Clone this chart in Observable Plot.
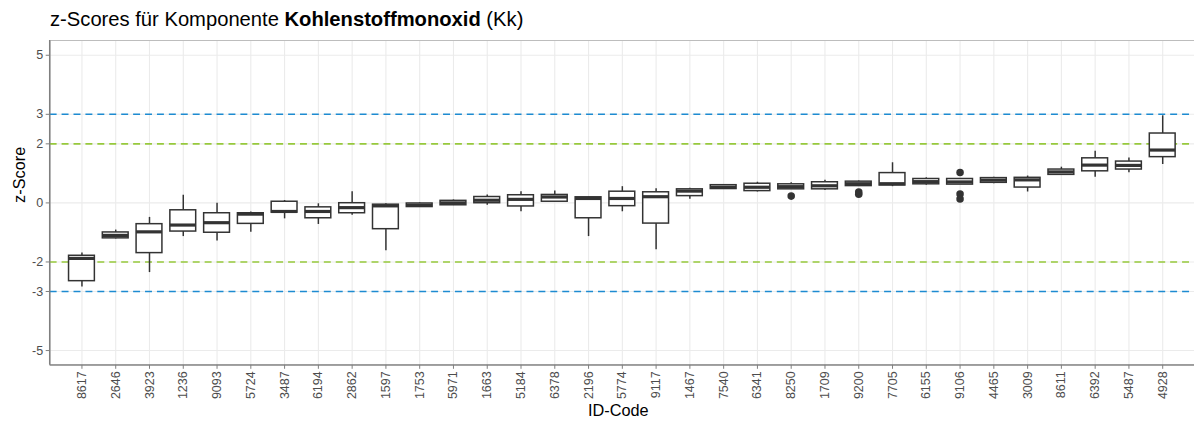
<!DOCTYPE html>
<html>
<head>
<meta charset="utf-8">
<script src="https://cdn.jsdelivr.net/npm/d3@7"></script>
<script src="https://cdn.jsdelivr.net/npm/@observablehq/plot@0.6"></script>
<style>
  html, body { margin: 0; padding: 0; background: #fff; overflow: hidden; width: 1194px; height: 425px; }
  #title { position: relative; height: 40px; font-family: "Liberation Sans", Arial, sans-serif; font-size: 20.2px; color: #000; }
  #title span.t { position: absolute; left: 50px; top: 9px; line-height: 1; white-space: nowrap; }
  #chart svg { display: block; }
</style>
</head>
<body>
<div id="title"><span class="t">z-Scores für Komponente <b>Kohlenstoffmonoxid</b> (Kk)</span></div>
<div id="chart"></div>
<script>
const ids = ["8617","2646","3923","1236","9093","5724","3487","6194","2862","1597","1753","5971","1663","5184","6378","2196","5774","9117","1467","7540","6341","8250","1709","9200","7705","6155","9106","4465","3009","8611","6392","5487","4928"];
const lower  = [-2.85,-1.22,-2.36,-1.14,-1.29,-0.99,-0.54,-0.73,-0.42,-1.62,-0.15,-0.09,-0.08,-0.30,0.02,-1.14,-0.30,-1.59,0.12,0.46,0.37,0.46,0.42,0.57,0.55,0.60,0.62,0.65,0.37,0.93,0.87,1.02,1.30];
const q1     = [-2.65,-1.20,-1.70,-0.97,-1.01,-0.71,-0.33,-0.52,-0.35,-0.89,-0.14,-0.08,-0.01,-0.12,0.04,-0.52,-0.11,-0.70,0.23,0.47,0.40,0.46,0.46,0.57,0.59,0.63,0.62,0.68,0.52,0.95,1.07,1.13,1.55];
const median = [-1.88,-1.10,-0.98,-0.75,-0.67,-0.38,-0.29,-0.29,-0.16,-0.10,-0.08,0.00,0.09,0.12,0.20,0.15,0.15,0.21,0.40,0.53,0.53,0.55,0.58,0.65,0.65,0.72,0.71,0.77,0.78,1.05,1.28,1.27,1.79];
const q3     = [-1.79,-1.00,-0.72,-0.25,-0.35,-0.35,0.04,-0.15,-0.01,-0.06,-0.02,0.07,0.20,0.26,0.27,0.19,0.38,0.36,0.46,0.60,0.65,0.63,0.70,0.72,1.01,0.81,0.81,0.84,0.85,1.13,1.51,1.40,2.35];
const upper  = [-1.70,-0.92,-0.49,0.26,-0.01,-0.31,0.08,-0.03,0.38,-0.03,0.00,0.10,0.27,0.38,0.40,0.20,0.55,0.48,0.50,0.62,0.70,0.68,0.77,0.74,1.36,0.85,0.81,0.87,0.91,1.21,1.75,1.52,2.95];
const outlierIds    = ["8250","9200","9200","9106","9106","9106"];
const outlierValues = [0.23,0.37,0.29,1.03,0.30,0.13];
const yTicks = [5,3,2,0,-2,-3,-5];
const limits3 = [3,-3];
const limits2 = [2,-2];
const xTitle = "ID-Code";
const yTitle = "z-Score";

const boxes = ids.map((id,i) => ({id, lo: lower[i], q1: q1[i], med: median[i], q3: q3[i], hi: upper[i]}));
const outliers = outlierIds.map((id,i) => ({id, v: outlierValues[i]}));

const dark = "#333333";
const axisGray = "#7f7f7f";

// left and bottom axis lines of the panel
function axisLines(index, scales, values, dim) {
  const ns = "http://www.w3.org/2000/svg";
  const g = document.createElementNS(ns, "g");
  const x0 = dim.marginLeft, x1 = dim.width - dim.marginRight;
  const y0 = dim.marginTop, y1 = dim.height - dim.marginBottom;
  const mk = (a, b, c, d) => {
    const l = document.createElementNS(ns, "line");
    l.setAttribute("x1", a); l.setAttribute("y1", b);
    l.setAttribute("x2", c); l.setAttribute("y2", d);
    l.setAttribute("stroke", axisGray); l.setAttribute("stroke-width", 1.4);
    g.appendChild(l);
  };
  mk(x0, y0, x0, y1);
  mk(x0, y1, x1, y1);
  return g;
}

const chart = Plot.plot({
  width: 1202,
  height: 385,
  marginLeft: 50,
  marginRight: 0,
  marginTop: 0,
  marginBottom: 58,
  style: {fontFamily: "'Liberation Sans', Arial, sans-serif", fontSize: "12.6px", color: "#4d4d4d", background: "#fff"},
  x: {type: "band", domain: ids, paddingInner: 0.25, paddingOuter: 0.225, label: null},
  y: {domain: [-5.5, 5.5], label: null},
  marks: [
    Plot.ruleX(ids, {x: d => d, stroke: "#ebebeb", strokeWidth: 1.1}),
    Plot.ruleY(yTicks, {y: d => d, stroke: "#ebebeb", strokeWidth: 1.1}),
    Plot.frame({stroke: "#bdbdbd", strokeWidth: 1}),
    Plot.ruleY(limits3, {y: d => d, stroke: "#1d8bd1", strokeWidth: 1.6, strokeDasharray: "7,5"}),
    Plot.ruleY(limits2, {y: d => d, stroke: "#97c93c", strokeWidth: 1.6, strokeDasharray: "7,5"}),
    Plot.ruleX(boxes, {x: "id", y1: "lo", y2: "hi", stroke: dark, strokeWidth: 1.5}),
    Plot.barY(boxes, {x: "id", y1: "q1", y2: "q3", fill: "white", stroke: dark, strokeWidth: 1.5}),
    Plot.tickY(boxes, {x: "id", y: "med", stroke: dark, strokeWidth: 3.2}),
    Plot.dot(outliers, {x: "id", y: "v", r: 3.8, fill: dark, stroke: "none"}),
    Plot.axisX({tickRotate: -90, tickSize: 4, tickPadding: 2, label: null, stroke: axisGray}),
    Plot.axisY({ticks: yTicks, tickFormat: d => String(d), tickSize: 4, tickPadding: 3, label: null, stroke: axisGray}),
    axisLines,
    Plot.text([xTitle], {frameAnchor: "bottom", text: d => d, dy: 51.5, dx: -4, fill: "#000", fontSize: 16.4}),
    Plot.text([yTitle], {frameAnchor: "left", text: d => d, dx: -31, rotate: -90, fill: "#000", fontSize: 16.4})
  ]
});
document.getElementById("chart").appendChild(chart);
</script>
</body>
</html>
